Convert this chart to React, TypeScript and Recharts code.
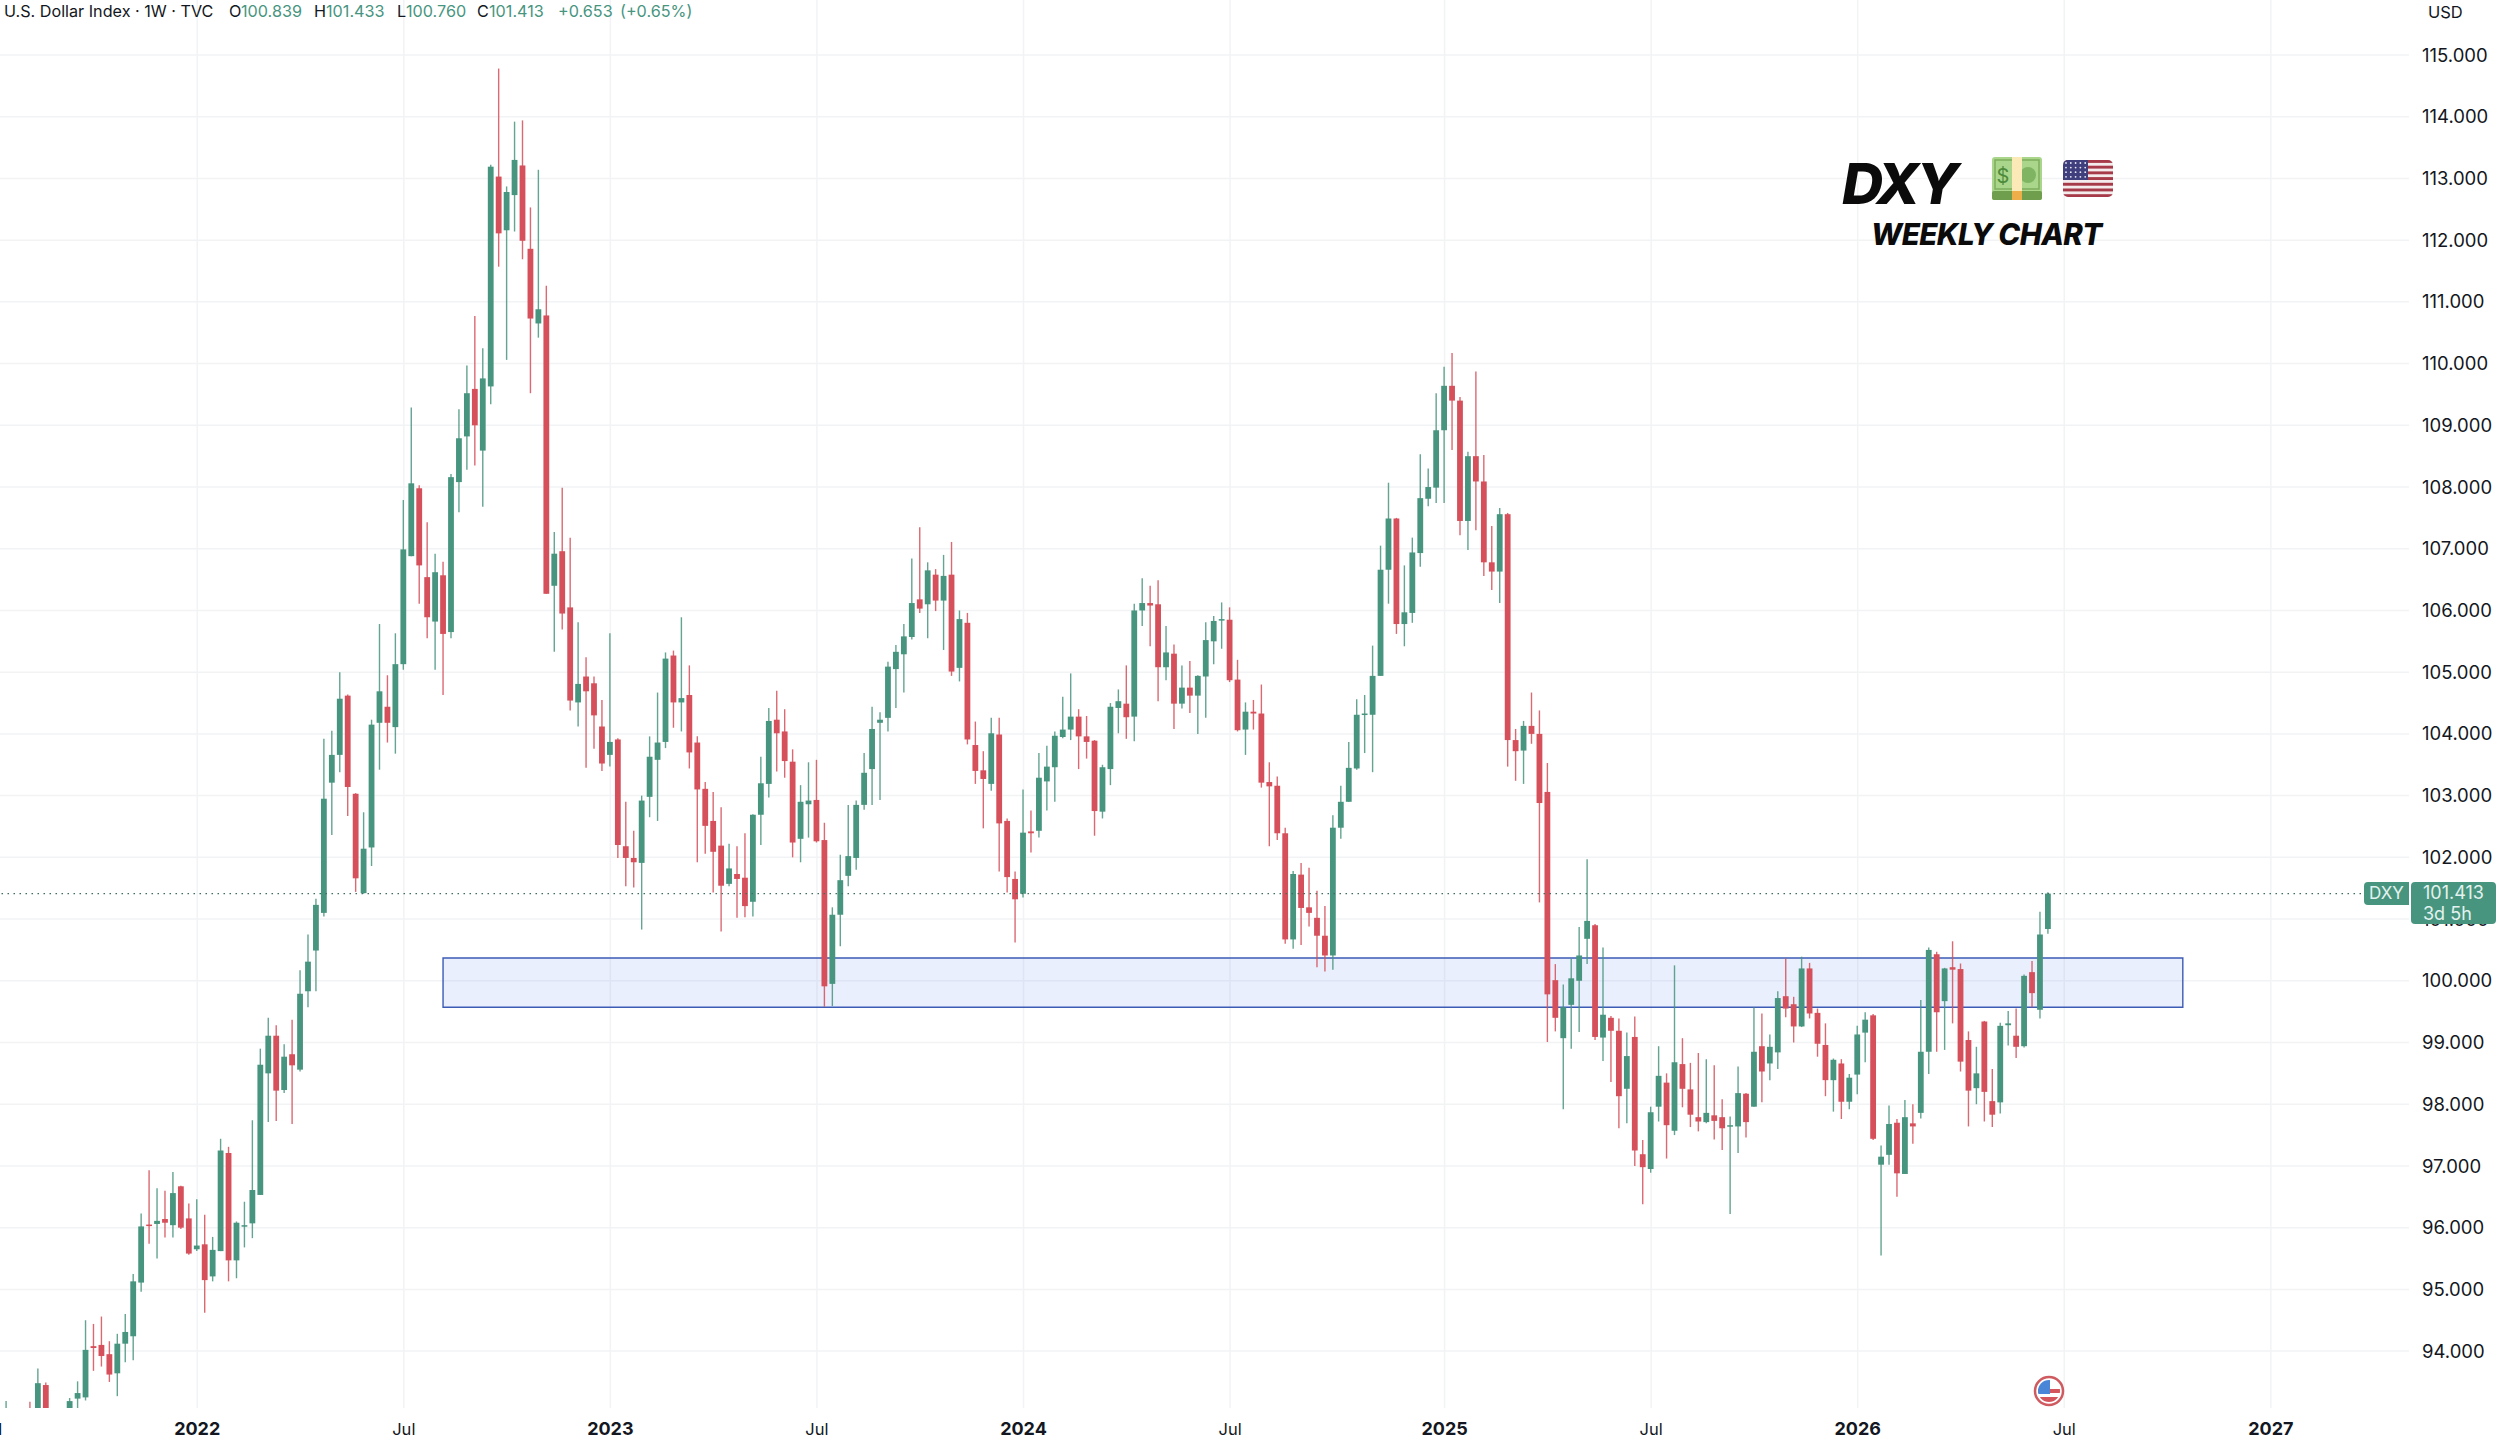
// DXY weekly candles, TradingView look
import { Bar, CartesianGrid, ComposedChart, ReferenceArea, ReferenceLine, XAxis, YAxis } from "recharts";

const opens = [
  92.6, 92.9, 92.6, 92.9, 92.7, 93.45, 92.9, 92.5, 92.95, 93.23,
  93.25, 94.08, 94.1, 93.95, 93.64, 94.12, 94.24, 95.11, 96.05, 96.06,
  96.14, 96.04, 96.67, 96.15, 95.65, 95.73, 95.21, 95.62, 97.21, 95.47,
  96.03, 96.07, 96.53, 98.5, 99.11, 98.23, 98.81, 98.56, 99.83, 100.49,
  101.1, 103.21, 103.66, 104.62, 103.03, 101.42, 102.16, 104.18, 104.44, 104.11,
  105.13, 106.88, 107.98, 106.54, 105.82, 106.57, 105.65, 108.08, 108.82, 109.59,
  108.59, 109.63, 113.03, 112.16, 112.73, 113.21, 111.86, 110.65, 110.78, 106.4,
  106.96, 106.05, 104.51, 104.93, 104.82, 104.12, 103.66, 103.91, 102.18, 101.99,
  101.91, 102.98, 103.58, 103.87, 105.27, 104.51, 104.63, 103.86, 103.11, 102.59,
  102.19, 101.57, 101.73, 101.67, 101.28, 102.69, 103.19, 104.23, 104.04, 103.55,
  102.3, 102.86, 102.93, 102.28, 99.95, 101.07, 101.7, 101.99, 102.85, 103.43,
  104.18, 104.26, 105.05, 105.29, 105.57, 106.18, 106.1, 106.58, 106.16, 106.58,
  105.07, 105.8, 103.82, 103.41, 103.19, 103.99, 102.59, 101.65, 101.41, 102.42,
  102.43, 103.23, 103.46, 103.95, 104.07, 104.28, 103.96, 103.89, 102.74, 103.43,
  104.42, 104.49, 104.28, 106.0, 106.12, 106.1, 105.08, 105.3, 104.49, 104.75,
  104.62, 104.93, 105.5, 105.84, 105.85, 104.88, 104.07, 104.36, 104.33, 103.22,
  103.16, 102.39, 100.67, 101.72, 101.19, 101.02, 100.73, 100.41, 102.48, 102.9,
  103.44, 104.31, 104.31, 104.94, 106.66, 107.49, 105.78, 105.96, 106.93, 107.81,
  107.99, 108.92, 109.64, 109.4, 107.45, 108.5, 108.09, 106.78, 106.63, 107.56,
  103.9, 103.73, 104.13, 104.0, 103.06, 100.01, 99.07, 99.61, 100.0, 100.68,
  100.9, 99.08, 99.4, 99.19, 98.25, 99.09, 97.19, 96.95, 97.96, 98.35,
  97.57, 98.65, 98.24, 97.79, 97.71, 97.82, 97.79, 97.64, 97.64, 98.17,
  97.96, 98.94, 98.66, 98.84, 99.75, 99.62, 99.26, 100.2, 99.48, 98.96,
  98.39, 98.66, 98.04, 98.48, 99.16, 99.44, 97.02, 97.18, 97.7, 96.87,
  97.69, 97.86, 98.85, 100.43, 99.67, 100.22, 100.19, 99.04, 98.26, 99.34,
  98.05, 98.03, 99.28, 99.11, 98.94, 100.14, 99.53, 100.839,
];
const highs = [
  93.19, 92.95, 92.98, 93.18, 93.72, 93.49, 92.95, 92.95, 93.24, 93.51,
  94.5, 94.44, 94.56, 94.16, 94.28, 94.6, 95.25, 96.23, 96.93, 96.64,
  96.6, 96.9, 96.68, 96.39, 96.46, 96.21, 95.85, 97.44, 97.31, 96.1,
  96.42, 97.74, 98.9, 99.4, 99.28, 98.97, 99.37, 100.17, 100.75, 101.33,
  103.92, 104.05, 105.0, 104.64, 103.04, 102.73, 104.23, 105.78, 104.95, 105.63,
  107.79, 109.29, 108.03, 107.43, 106.92, 106.79, 108.21, 109.26, 109.97, 110.77,
  110.25, 113.22, 114.78, 112.87, 113.92, 113.94, 112.53, 113.14, 111.26, 107.27,
  107.99, 107.18, 105.81, 105.24, 104.93, 104.55, 105.63, 103.93, 102.9, 102.43,
  103.0, 103.96, 104.67, 105.32, 105.35, 105.89, 105.11, 103.96, 103.22, 103.06,
  102.81, 102.22, 102.18, 102.39, 102.7, 103.63, 104.42, 104.7, 104.4, 103.75,
  103.17, 103.54, 103.58, 102.56, 101.19, 102.04, 102.85, 102.92, 103.69, 104.44,
  104.35, 105.17, 105.44, 105.78, 106.84, 107.35, 106.78, 106.67, 106.9, 107.11,
  106.0, 105.96, 104.2, 103.72, 104.26, 104.26, 102.63, 101.77, 103.1, 102.76,
  103.69, 103.81, 104.04, 104.6, 104.98, 104.4, 104.29, 103.9, 103.5, 104.5,
  104.72, 105.11, 106.11, 106.52, 106.4, 106.49, 105.75, 105.45, 105.11, 105.18,
  104.95, 105.81, 105.91, 106.13, 106.05, 105.2, 104.51, 104.55, 104.8, 103.54,
  103.31, 102.48, 101.78, 101.91, 101.83, 101.46, 101.21, 102.68, 103.16, 103.87,
  104.56, 104.63, 105.43, 107.05, 108.07, 107.5, 106.73, 107.18, 108.53, 108.3,
  109.52, 109.95, 110.17, 109.46, 108.57, 109.87, 108.52, 107.37, 107.66, 107.58,
  104.08, 104.21, 104.67, 104.38, 103.53, 100.27, 99.94, 100.36, 100.87, 101.97,
  100.92, 100.54, 99.43, 99.39, 99.16, 99.42, 97.42, 97.96, 98.94, 98.5,
  100.25, 99.07, 98.67, 98.83, 98.73, 98.63, 98.08, 97.8, 98.61, 98.18,
  99.57, 99.47, 99.13, 99.83, 100.36, 99.74, 100.39, 100.29, 99.55, 99.31,
  98.74, 98.73, 98.49, 99.27, 99.49, 99.46, 97.33, 97.98, 97.76, 98.07,
  98.0, 99.69, 100.54, 100.47, 100.21, 100.64, 100.28, 99.18, 98.93, 99.35,
  98.57, 99.32, 99.51, 99.55, 100.1, 100.32, 101.12, 101.433,
];
const lows = [
  92.3, 92.4, 92.3, 92.4, 92.6, 92.8, 92.3, 92.3, 92.8, 93.0,
  93.2, 93.68, 93.75, 93.5, 93.27, 93.82, 93.85, 94.96, 95.74, 95.5,
  95.84, 95.84, 95.98, 95.56, 95.62, 94.62, 95.13, 95.62, 95.13, 95.18,
  95.68, 95.83, 96.53, 97.71, 97.73, 98.18, 97.68, 98.53, 99.57, 99.83,
  101.04, 102.36, 103.38, 102.67, 101.44, 101.41, 101.86, 103.42, 103.86, 103.68,
  105.04, 106.88, 106.11, 105.55, 105.04, 104.63, 105.55, 107.59, 108.28, 108.35,
  107.68, 109.34, 111.57, 110.06, 112.14, 111.69, 109.52, 110.42, 106.27, 105.33,
  105.69, 104.38, 104.12, 103.45, 103.76, 103.4, 103.47, 101.99, 101.53, 101.51,
  100.83, 102.65, 102.59, 103.77, 104.1, 104.04, 103.44, 101.92, 102.06, 101.43,
  100.8, 101.53, 101.02, 101.03, 101.04, 102.2, 102.97, 103.39, 103.29, 102.0,
  101.92, 102.32, 102.24, 99.58, 99.59, 100.56, 101.53, 101.8, 102.77, 102.85,
  102.93, 104.04, 104.42, 104.67, 105.53, 105.96, 105.55, 105.99, 105.36, 104.94,
  104.85, 103.83, 103.19, 102.47, 103.08, 101.77, 101.43, 100.62, 101.35, 102.08,
  102.32, 102.76, 102.9, 103.93, 103.9, 103.43, 103.6, 102.35, 102.63, 103.17,
  104.01, 103.92, 103.88, 105.75, 105.42, 104.53, 104.87, 104.08, 104.41, 104.34,
  104.0, 104.26, 105.13, 105.38, 104.84, 104.04, 103.66, 104.07, 103.13, 102.18,
  102.28, 100.6, 100.52, 100.58, 100.88, 100.22, 100.15, 100.18, 102.3, 102.9,
  103.42, 103.69, 103.38, 104.94, 106.11, 105.62, 105.42, 105.8, 106.71, 107.69,
  107.74, 107.74, 108.6, 107.22, 106.98, 107.3, 106.56, 106.33, 106.12, 103.47,
  103.24, 103.19, 103.84, 101.27, 99.01, 99.18, 97.92, 98.9, 99.17, 100.27,
  99.04, 98.7, 98.36, 97.61, 97.69, 97.0, 96.38, 96.89, 97.72, 97.12,
  97.5, 97.95, 97.63, 97.56, 97.69, 97.43, 97.26, 96.22, 97.21, 97.46,
  97.96, 98.03, 98.39, 98.57, 99.41, 99.0, 99.25, 99.39, 98.77, 98.13,
  97.88, 97.76, 97.92, 98.16, 98.68, 97.42, 95.55, 97.02, 96.5, 96.87,
  97.36, 97.77, 98.49, 98.85, 98.88, 99.31, 98.53, 97.64, 98.0, 97.72,
  97.63, 97.85, 98.95, 98.75, 98.92, 99.57, 99.39, 100.76,
];
const closes = [
  92.9, 92.6, 92.8, 92.6, 93.48, 92.9, 92.5, 92.85, 93.19, 93.32,
  94.02, 94.05, 93.92, 93.62, 94.12, 94.31, 95.13, 96.02, 96.03, 96.11,
  96.08, 96.56, 96.0, 95.58, 95.71, 95.15, 95.64, 97.25, 95.47, 96.08,
  96.04, 96.61, 98.64, 99.11, 98.22, 98.77, 98.63, 99.79, 100.31, 101.23,
  102.95, 103.66, 104.57, 103.14, 101.66, 102.14, 104.15, 104.69, 104.18, 105.13,
  106.99, 108.06, 106.73, 105.89, 106.62, 105.62, 108.16, 108.79, 109.52, 109.0,
  109.76, 113.19, 112.11, 112.78, 113.3, 111.99, 110.73, 110.88, 106.27, 106.92,
  105.95, 104.54, 104.81, 104.69, 104.3, 103.52, 103.87, 102.2, 101.99, 101.92,
  102.92, 103.63, 103.86, 105.22, 104.51, 104.58, 103.7, 103.1, 102.51, 102.09,
  101.54, 101.82, 101.65, 101.21, 102.69, 103.2, 104.21, 104.01, 103.56, 102.24,
  102.9, 102.92, 102.26, 99.91, 101.07, 101.63, 102.02, 102.85, 103.37, 104.08,
  104.23, 105.09, 105.33, 105.58, 106.12, 106.03, 106.65, 106.16, 106.56, 105.01,
  105.86, 103.91, 103.4, 103.27, 104.01, 102.55, 101.68, 101.32, 102.4, 102.39,
  103.29, 103.47, 103.97, 104.07, 104.28, 103.96, 103.87, 102.75, 103.46, 104.44,
  104.53, 104.27, 106.0, 106.12, 106.08, 105.08, 105.32, 104.49, 104.75, 104.62,
  104.94, 105.52, 105.83, 105.86, 104.87, 104.06, 104.36, 104.33, 103.21, 103.15,
  102.39, 100.67, 101.73, 101.18, 101.1, 100.73, 100.41, 102.48, 102.9, 103.45,
  104.31, 104.33, 104.94, 106.66, 107.49, 105.78, 105.97, 106.94, 107.82, 108.0,
  108.92, 109.64, 109.4, 107.45, 108.5, 108.09, 106.78, 106.63, 107.56, 103.9,
  103.72, 104.13, 104.0, 102.88, 99.78, 99.4, 99.57, 100.04, 100.41, 100.97,
  99.09, 99.45, 99.19, 98.13, 98.78, 97.25, 96.98, 97.87, 98.46, 97.66,
  98.68, 98.25, 97.83, 97.72, 97.86, 97.73, 97.61, 97.66, 98.18, 97.71,
  98.85, 98.53, 98.93, 99.72, 99.55, 99.26, 100.2, 99.47, 98.98, 98.39,
  98.72, 98.04, 98.43, 99.13, 99.37, 97.44, 97.15, 97.68, 96.88, 97.79,
  97.64, 98.85, 100.5, 99.49, 100.2, 100.18, 98.69, 98.22, 98.5, 98.2,
  97.83, 99.27, 99.31, 98.93, 100.08, 99.8, 100.75, 101.413,
];

// week number (bar index) of each time label
const tickWeeks = [-2, 24, 50, 76, 102, 128, 154, 181, 207, 233, 259, 285];
const tickLabels = ["Jul", "2022", "Jul", "2023", "Jul", "2024", "Jul", "2025", "Jul", "2026", "Jul", "2027"];
const priceTicks = [94, 95, 96, 97, 98, 99, 100, 101, 102, 103, 104, 105, 106, 107, 108, 109, 110, 111, 112, 113, 114, 115];
const zoneWeeks = [54.94, 273.92];
const zonePrices = [99.57, 100.37];
const lastPrice = 101.413;

const UP = "#48957f";
const DOWN = "#d5505a";
const TEXT = "#131722";
const FONT = "Inter, 'Noto Sans', sans-serif";

const table = opens.map((open, i) => ({
  week: i,
  open,
  high: highs[i],
  low: lows[i],
  close: closes[i],
  range: [lows[i], highs[i]],
}));

// Bar gives the low..high rectangle, the body is worked out from it
const Candle = (props: any) => {
  const { x, y, width, height, payload } = props;
  const perUnit = height / (payload.high - payload.low);
  const color = payload.close >= payload.open ? UP : DOWN;
  const cx = x + width / 2;
  const top = y + (payload.high - Math.max(payload.open, payload.close)) * perUnit;
  const bodyH = Math.max(Math.abs(payload.open - payload.close) * perUnit, 1.5);
  return (
    <g>
      <line x1={cx} x2={cx} y1={y} y2={y + height} stroke={color} strokeWidth={1.4} opacity={0.85} />
      <rect x={x - 0.4} y={top} width={width + 0.8} height={bodyH} fill={color} />
    </g>
  );
};

const TimeTick = ({ x, y, payload }: any) => {
  const label = tickLabels[tickWeeks.indexOf(payload.value)];
  const isYear = label !== "Jul";
  return (
    <text x={x} y={y} dy={19} textAnchor="middle" fill={TEXT} fontFamily={FONT} fontSize={isYear ? 18 : 16.5} fontWeight={isYear ? 700 : 400}>
      {label}
    </text>
  );
};

const headerParts: [number, string, string][] = [
  [4, "U.S. Dollar Index · 1W · TVC", TEXT],
  [229, "O", TEXT],
  [241, "100.839", UP],
  [314, "H", TEXT],
  [326, "101.433", UP],
  [397, "L", TEXT],
  [406, "100.760", UP],
  [477, "C", TEXT],
  [489, "101.413", UP],
  [558, "+0.653", UP],
  [620, "(+0.65%)", UP],
];

const BillIcon = () => (
  <svg width={50} height={43} style={{ position: "absolute", left: 1992, top: 157 }}>
    <rect x={0} y={0} width={50} height={43} rx={3} fill="#a9d68a" />
    <rect x={0} y={34} width={50} height={9} rx={2} fill="#6f9e4c" />
    <rect x={3} y={3} width={44} height={29} fill="none" stroke="#7dae5c" strokeWidth={1.5} />
    <circle cx={36} cy={18} r={8} fill="#7fb562" />
    <rect x={20} y={0} width={10} height={34} fill="#fbe9b7" />
    <rect x={20} y={34} width={10} height={9} fill="#eeae4a" />
    <text x={11} y={26} fontSize={20} fontFamily={FONT} fill="#4d8a3a" textAnchor="middle">$</text>
  </svg>
);

const flagStripes = [0, 1, 2, 3, 4, 5, 6];
const flagRows = [0, 1, 2, 3];
const flagCols = [0, 1, 2, 3, 4];

const FlagIcon = () => (
  <svg width={50} height={37} style={{ position: "absolute", left: 2063, top: 160 }}>
    <clipPath id="flagClip"><rect width={50} height={37} rx={5} /></clipPath>
    <g clipPath="url(#flagClip)">
      <rect width={50} height={37} fill="#f4ecec" />
      {flagStripes.map((s) => (
        <rect key={s} x={0} y={s * 5.7} width={50} height={2.9} fill="#a63a48" />
      ))}
      <rect width={25} height={20} fill="#3f3f7e" />
      {flagRows.map((r) =>
        flagCols.map((c) => <circle key={`${r}-${c}`} cx={3 + c * 4.8} cy={3 + r * 4.6} r={0.9} fill="#e8e8f4" />)
      )}
    </g>
  </svg>
);

const EarningsIcon = () => (
  <svg width={32} height={32} style={{ position: "absolute", left: 2033, top: 1375 }}>
    <clipPath id="usClip"><circle cx={16} cy={16} r={11} /></clipPath>
    <circle cx={16} cy={16} r={14} fill="#fff" stroke="#cf5a60" strokeWidth={2.5} />
    <g clipPath="url(#usClip)">
      <rect width={32} height={32} fill="#fff" />
      <rect y={14} width={32} height={4} fill="#d4565c" />
      <rect y={22} width={32} height={5} fill="#d4565c" />
      <rect y={5} width={17} height={14} fill="#4a86d8" />
    </g>
  </svg>
);

export default function App() {
  return (
    <div style={{ position: "absolute", left: 0, top: 0, width: 2500, height: 1443, overflow: "hidden", background: "#fff" }}>
      {/* starts off the page so that the first "Jul" is cut the same way */}
      <div style={{ position: "absolute", left: -40, top: 0 }}>
        <ComposedChart width={2540} height={1443} data={table} margin={{ top: 0, right: 0, bottom: 0, left: 0 }}>
          <CartesianGrid stroke="#f2f3f5" strokeWidth={1.5} syncWithTicks />
          <XAxis
            dataKey="week"
            type="number"
            domain={[-5.86, 302.39]}
            allowDataOverflow
            ticks={tickWeeks}
            interval={0}
            height={35}
            axisLine={false}
            tickLine={false}
            tick={<TimeTick />}
          />
          <YAxis
            orientation="right"
            type="number"
            width={91}
            domain={[93.078, 115.891]}
            allowDataOverflow
            ticks={priceTicks}
            interval={0}
            axisLine={false}
            tickLine={false}
            tickMargin={7}
            tickFormatter={(v: number) => v.toFixed(3)}
            tick={{ fill: TEXT, fontSize: 18.5, fontFamily: FONT }}
          />
          <ReferenceArea
            x1={zoneWeeks[0]}
            x2={zoneWeeks[1]}
            y1={zonePrices[0]}
            y2={zonePrices[1]}
            fill="#3c6eeb"
            fillOpacity={0.11}
            stroke="#3b5bb5"
            strokeWidth={1.4}
            strokeOpacity={1}
          />
          <ReferenceLine y={lastPrice} stroke="#3c6f62" strokeDasharray="1.5 4.5" strokeWidth={1.3} />
          <Bar dataKey="range" barSize={5} shape={<Candle />} isAnimationActive={false} />
        </ComposedChart>
      </div>

      {headerParts.map(([left, text, color]) => (
        <span key={left} style={{ position: "absolute", left, top: 1, fontFamily: FONT, fontSize: 16.2, lineHeight: "20px", color, whiteSpace: "nowrap" }}>
          {text}
        </span>
      ))}
      <span style={{ position: "absolute", left: 2428, top: 2, fontFamily: FONT, fontSize: 16.5, lineHeight: "20px", color: TEXT }}>USD</span>

      <span style={{ position: "absolute", left: 1842, top: 150, fontFamily: FONT, fontSize: 57, lineHeight: "68px", fontWeight: 800, fontStyle: "italic", color: "#0b0b0b", letterSpacing: "-3.5px" }}>DXY</span>
      <span style={{ position: "absolute", left: 1871, top: 216, fontFamily: FONT, fontSize: 29.5, lineHeight: "36px", fontWeight: 800, fontStyle: "italic", color: "#0b0b0b", whiteSpace: "nowrap", letterSpacing: "-0.6px" }}>WEEKLY CHART</span>
      <BillIcon />
      <FlagIcon />
      <EarningsIcon />

      <div style={{ position: "absolute", left: 2364, top: 882, width: 45, height: 23, background: "#48957f", borderRadius: "4px 0 0 4px", color: "#e3f2ee", fontFamily: FONT, fontSize: 17, lineHeight: "23px", textAlign: "center" }}>DXY</div>
      <div style={{ position: "absolute", left: 2411, top: 882, width: 85, height: 42, background: "#48957f", borderRadius: 4, color: "#e3f2ee", fontFamily: FONT, fontSize: 18, lineHeight: "21px", paddingLeft: 12, boxSizing: "border-box" }}>
        101.413
        <br />
        3d 5h
      </div>
    </div>
  );
}
